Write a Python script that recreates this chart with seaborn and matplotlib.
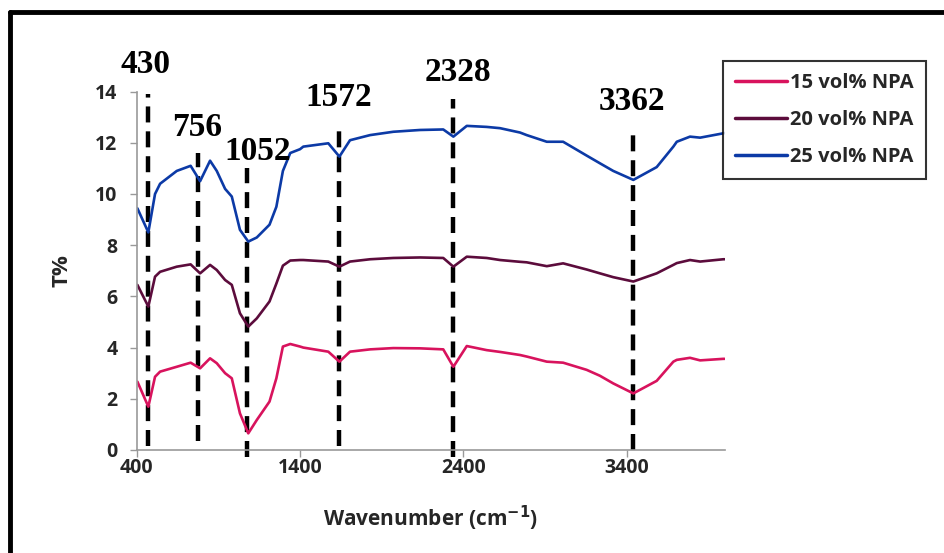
import numpy as np
import pandas as pd
import seaborn as sns
import matplotlib.pyplot as plt
from matplotlib.lines import Line2D

# wavenumber grid (cm-1)
wavenumber = [404, 471, 512, 543, 645, 730, 788, 849, 890, 941, 982, 1032, 1083,
              1135, 1213, 1255, 1295, 1340, 1400, 1420, 1573, 1641, 1706, 1829,
              1971, 2135, 2277, 2339, 2421, 2543, 2625, 2747, 2788, 2911, 3011,
              3155, 3236, 3318, 3441, 3584, 3686, 3707, 3788, 3850, 3992, 4000]

t_15 = [2.67, 1.69, 2.86, 3.06, 3.25, 3.41, 3.19, 3.58, 3.39, 3.0, 2.8, 1.43, 0.65,
        1.17, 1.89, 2.8, 4.04, 4.14, 4.04, 4.0, 3.84, 3.45, 3.84, 3.93,
        3.98, 3.97, 3.93, 3.25, 4.06, 3.9, 3.83, 3.71, 3.65, 3.45, 3.41,
        3.13, 2.9, 2.6, 2.21, 2.7, 3.45, 3.52, 3.6, 3.5, 3.56, 3.56]

t_20 = [6.45, 5.6, 6.77, 6.96, 7.16, 7.25, 6.9, 7.23, 7.03, 6.64, 6.45, 5.34, 4.82,
        5.14, 5.8, 6.5, 7.2, 7.4, 7.42, 7.42, 7.36, 7.16, 7.36, 7.45,
        7.5, 7.52, 7.5, 7.16, 7.55, 7.5, 7.42, 7.35, 7.33, 7.18, 7.29,
        7.05, 6.9, 6.75, 6.58, 6.9, 7.23, 7.3, 7.42, 7.36, 7.45, 7.45]

t_25 = [9.44, 8.5, 10.0, 10.4, 10.9, 11.1, 10.5, 11.3, 10.9, 10.2, 9.9, 8.6, 8.14,
        8.3, 8.8, 9.5, 10.9, 11.6, 11.75, 11.85, 11.98, 11.46, 12.1, 12.3,
        12.43, 12.5, 12.52, 12.24, 12.66, 12.62, 12.57, 12.4, 12.3, 12.04, 12.04,
        11.5, 11.2, 10.9, 10.55, 11.05, 11.85, 12.04, 12.24, 12.2, 12.37, 12.38]

series_names = ["15 vol% NPA", "20 vol% NPA", "25 vol% NPA"]
series_colors = ["#d8135d", "#5c0c3c", "#0c3aa6"]

# marked peaks: label, dashed line position, line extent
peak_labels = ["430", "756", "1052", "1572", "2328", "3362"]
peak_x = [471, 777, 1078, 1641, 2339, 3441]
peak_ymin = [0.15, 0.35, -0.27, 0.15, -0.27, 0.0]
peak_ymax = [13.9, 11.6, 11.0, 12.7, 13.7, 12.5]
label_xy = [(451, 15.04), (772, 12.6), (1140, 11.64), (1638, 13.75),
            (2367, 14.73), (3433, 13.63)]

df = pd.concat([
    pd.DataFrame({"wavenumber": wavenumber, "T": vals, "sample": name})
    for name, vals in zip(series_names, [t_15, t_20, t_25])
])

sns.set_style("white")
plt.rcParams["font.family"] = ["Open Sans", "DejaVu Sans"]

fig = plt.figure(figsize=(9.45, 5.53), dpi=100)
ax = fig.add_axes([0.1447, 0.1863, 0.6221, 0.6481])

sns.lineplot(data=df, x="wavenumber", y="T", hue="sample", palette=series_colors,
             estimator=None, lw=1.9, ax=ax)

ax.vlines(peak_x, peak_ymin, peak_ymax, colors="black", lw=3.2,
          linestyles=(0, (3.6, 2.0)), clip_on=False, zorder=1)
for lab, (lx, ly) in zip(peak_labels, label_xy):
    ax.text(lx, ly, lab, ha="center", va="center", fontsize=24, fontweight="bold",
            family="Liberation Serif", color="black")

ax.set_xlim(400, 4000)
ax.set_ylim(0, 14)
ax.set_xticks([400, 1400, 2400, 3400])
ax.set_yticks(np.arange(0, 15, 2))
ax.tick_params(axis="both", left=True, bottom=True, direction="out")
ax.tick_params(axis="x", length=5, width=1, color="#999999", pad=1, labelsize=14)
ax.tick_params(axis="y", length=5, width=1, color="#999999", pad=9, labelsize=14)
for lab in ax.get_xticklabels() + ax.get_yticklabels():
    lab.set_fontweight("bold")
sns.despine(ax=ax)
for s in ["left", "bottom"]:
    ax.spines[s].set_color("#999999")
    ax.spines[s].set_linewidth(1.2)

ax.set_xlabel("Wavenumber (cm$^{\\mathbf{-1}}$)", fontsize=15, fontweight="bold", labelpad=18)
ax.set_ylabel("T%", fontsize=16, fontweight="bold", labelpad=16)

handles, labels = ax.get_legend_handles_labels()
leg = ax.legend(handles, labels, loc="upper left", bbox_to_anchor=(0.765, 0.89),
                bbox_transform=fig.transFigure, frameon=True, fancybox=False,
                borderaxespad=0, handlelength=2.6, handletextpad=0.15,
                labelspacing=0.85, borderpad=0.6,
                prop={"weight": "bold", "size": 14.5})
leg.get_frame().set_edgecolor("black")
leg.get_frame().set_linewidth(1.5)
for h in leg.get_lines():
    h.set_linewidth(2.5)

# frame drawn round the original figure (left and top edges show)
fig.add_artist(Line2D([0.0102, 0.0102], [0, 0.978], color="black", lw=3.5,
                      transform=fig.transFigure))
fig.add_artist(Line2D([0.0102, 1.0], [0.978, 0.978], color="black", lw=3.5,
                      transform=fig.transFigure))

fig.savefig("out.png", dpi=100)
